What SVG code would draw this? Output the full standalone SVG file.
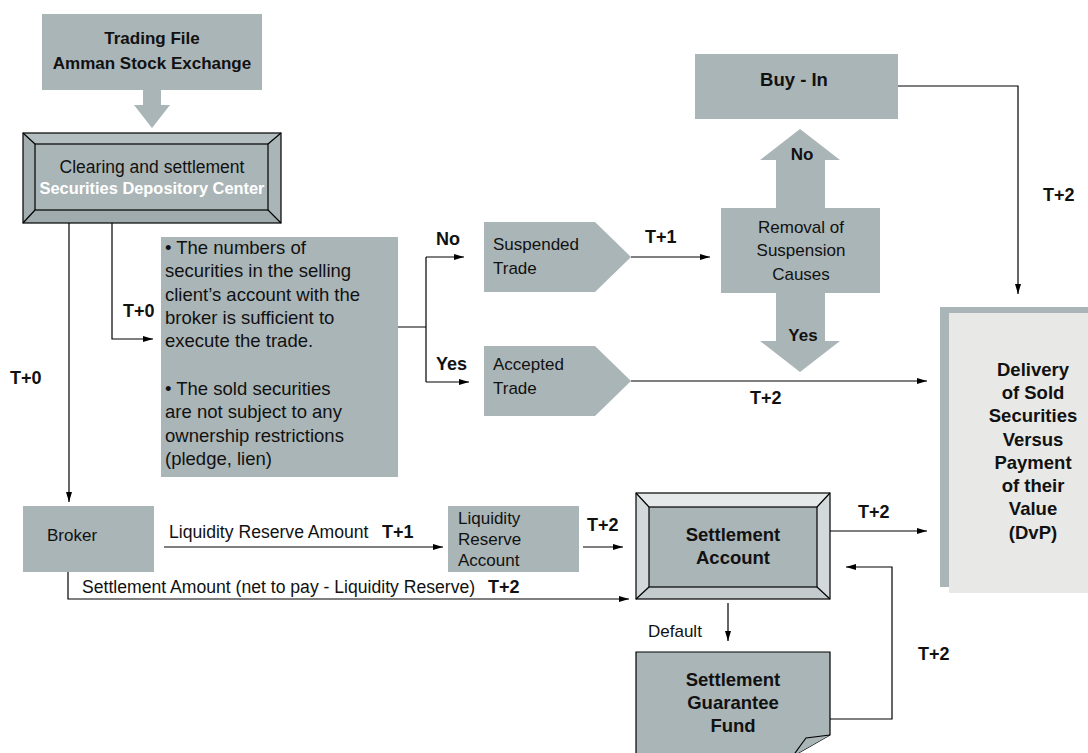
<svg xmlns="http://www.w3.org/2000/svg" width="1088" height="753" viewBox="0 0 1088 753">
<defs>
<marker id="ah" markerWidth="10" markerHeight="6" refX="10" refY="3" orient="auto" markerUnits="userSpaceOnUse">
<path d="M0,0 L10,3 L0,6 Z" fill="#000"/>
</marker>
<style>
.box{fill:#aab5b7}
.t{font-family:"Liberation Sans",Arial,sans-serif;font-size:17px;fill:#111}
.b{font-family:"Liberation Sans",Arial,sans-serif;font-size:17px;font-weight:bold;fill:#111}
.lb{font-family:"Liberation Sans",Arial,sans-serif;font-size:18px;font-weight:bold;fill:#111}
.c{text-anchor:middle}
.ln{fill:none;stroke:#000;stroke-width:1.2}
.ar{fill:none;stroke:#000;stroke-width:1.2;marker-end:url(#ah)}
.edge{fill:none;stroke:#000;stroke-width:1.2}
</style>
</defs>
<rect width="1088" height="753" fill="#fff"/>

<g id="trading-file">
<rect class="box" x="42" y="14" width="220" height="76"/>
<text class="b c" x="152" y="44">Trading File</text>
<text class="b c" x="152" y="69">Amman Stock Exchange</text>
</g>

<g id="block-arrow">
<polygon class="box" points="143,90 161,90 161,105 170,105 152,128 134,105 143,105"/>
</g>

<g id="clearing">
<rect x="23" y="133" width="258" height="90" fill="#aab5b7"/>
<polygon points="23,133 281,133 268,144 35,144" fill="#b3bec0"/>
<polygon points="23,223 281,223 268,210 35,210" fill="#9fabad"/>
<polygon points="23,133 35,144 35,210 23,223" fill="#a2aeb0"/>
<rect x="23" y="133" width="258" height="90" class="edge"/>
<rect x="35" y="144" width="233" height="66" class="edge"/>
<path class="edge" d="M23,133 L35,144 M281,133 L268,144 M23,223 L35,210 M281,223 L268,210"/>
<text class="t c" x="152" y="173" style="font-size:17.5px">Clearing and settlement</text>
<text class="b c" x="152" y="194" style="fill:#fff;font-size:16.4px">Securities Depository Center</text>
</g>

<g id="conditions">
<rect class="box" x="161" y="237" width="237" height="240"/>
<text class="t" x="165" y="254" style="font-size:18.5px">• The numbers of</text>
<text class="t" x="165" y="277" style="font-size:18.5px">securities in the selling</text>
<text class="t" x="165" y="301" style="font-size:18.5px">client’s account with the</text>
<text class="t" x="165" y="324" style="font-size:18.5px">broker is sufficient to</text>
<text class="t" x="165" y="347" style="font-size:18.5px">execute the trade.</text>
<text class="t" x="165" y="395" style="font-size:18.5px">• The sold securities</text>
<text class="t" x="165" y="418" style="font-size:18.5px">are not subject to any</text>
<text class="t" x="165" y="442" style="font-size:18.5px">ownership restrictions</text>
<text class="t" x="165" y="465" style="font-size:18.5px">(pledge, lien)</text>
</g>

<g id="suspended">
<polygon class="box" points="484,222 595,222 631,257 595,292 484,292"/>
<text class="t" x="493" y="250">Suspended</text>
<text class="t" x="493" y="274">Trade</text>
</g>

<g id="accepted">
<polygon class="box" points="484,346 595,346 631,381 595,416 484,416"/>
<text class="t" x="493" y="370">Accepted</text>
<text class="t" x="493" y="394">Trade</text>
</g>

<g id="removal">
<polygon class="box" points="800,129 840,160 825,160 825,208 880,208 880,293 825,293 825,341 840,341 800,372 760,341 776,341 776,293 721,293 721,208 776,208 776,160 760,160"/>
<text class="t c" x="801" y="233">Removal of</text>
<text class="t c" x="801" y="256">Suspension</text>
<text class="t c" x="801" y="280">Causes</text>
<text class="b c" x="802" y="160">No</text>
<text class="b c" x="803" y="341">Yes</text>
</g>

<g id="buy-in">
<rect class="box" x="695" y="54" width="203" height="65"/>
<text class="b c" x="794" y="86" style="font-size:18.5px">Buy - In</text>
</g>

<g id="dvp">
<rect class="box" x="940" y="307" width="148" height="280"/>
<rect x="949" y="313" width="139" height="280" fill="#e8e8e6"/>
<text class="b c" x="1033" y="376" style="font-size:18.5px">Delivery</text>
<text class="b c" x="1033" y="399" style="font-size:18.5px">of Sold</text>
<text class="b c" x="1033" y="422" style="font-size:18.5px">Securities</text>
<text class="b c" x="1033" y="446" style="font-size:18.5px">Versus</text>
<text class="b c" x="1033" y="469" style="font-size:18.5px">Payment</text>
<text class="b c" x="1033" y="492" style="font-size:18.5px">of their</text>
<text class="b c" x="1033" y="515" style="font-size:18.5px">Value</text>
<text class="b c" x="1033" y="539" style="font-size:18.5px">(DvP)</text>
</g>

<g id="broker">
<rect class="box" x="23" y="506" width="131" height="66"/>
<text class="t" x="47" y="541">Broker</text>
</g>

<g id="liquidity-reserve-account">
<rect class="box" x="448" y="506" width="131" height="66"/>
<text class="t" x="458" y="524">Liquidity</text>
<text class="t" x="458" y="545">Reserve</text>
<text class="t" x="458" y="566">Account</text>
</g>

<g id="settlement-account">
<rect x="636" y="493" width="194" height="106" fill="#d3d9da"/>
<polygon points="636,493 830,493 817,507 649,507" fill="#e6e9e9"/>
<polygon points="636,599 830,599 817,587 649,587" fill="#c3cbcc"/>
<rect x="649" y="507" width="168" height="80" fill="#aab5b7"/>
<rect x="636" y="493" width="194" height="106" class="edge"/>
<rect x="649" y="507" width="168" height="80" class="edge"/>
<path class="edge" d="M636,493 L649,507 M830,493 L817,507 M636,599 L649,587 M830,599 L817,587"/>
<text class="b c" x="733" y="541" style="font-size:18.5px">Settlement</text>
<text class="b c" x="733" y="564" style="font-size:18.5px">Account</text>
</g>

<g id="guarantee-fund">
<path d="M636,652 H830 V735 L793,756 H636 Z" fill="#aab5b7" stroke="#000" stroke-width="1.2"/>
<path d="M830,735 L806,738 Q800,746 793,756" fill="#aab5b7" stroke="#000" stroke-width="1.2"/>
<text class="b c" x="733" y="686" style="font-size:18.5px">Settlement</text>
<text class="b c" x="733" y="709" style="font-size:18.5px">Guarantee</text>
<text class="b c" x="733" y="732" style="font-size:18.5px">Fund</text>
</g>

<g id="connectors">
<path class="ar" d="M112,223 V339 H153"/>
<path class="ar" d="M69,223 V502"/>
<path class="ln" d="M398,327 H426 M426,257 V382"/>
<path class="ar" d="M426,257 H464"/>
<path class="ar" d="M426,382 H469"/>
<path class="ar" d="M631,257 H710"/>
<path class="ar" d="M898,86 H1018 V294"/>
<path class="ar" d="M631,381 H927"/>
<path class="ar" d="M164,547 H443"/>
<path class="ar" d="M583,547 H623"/>
<path class="ar" d="M68,572 V599 H629"/>
<path class="ar" d="M830,531 H927"/>
<path class="ar" d="M728,603 V641"/>
<path class="ar" d="M830,719 H892 V567 H846"/>
</g>

<g id="labels">
<text class="lb" x="123" y="317">T+0</text>
<text class="lb" x="10" y="384">T+0</text>
<text class="lb" x="436" y="245">No</text>
<text class="lb" x="436" y="370">Yes</text>
<text class="lb" x="645" y="243">T+1</text>
<text class="lb" x="750" y="404">T+2</text>
<text class="lb" x="1043" y="201">T+2</text>
<text class="lb" x="858" y="518">T+2</text>
<text class="lb" x="587" y="531">T+2</text>
<text class="t" x="169" y="538" style="font-size:17.6px">Liquidity Reserve Amount</text>
<text class="lb" x="382" y="538">T+1</text>
<text class="t" x="82" y="593" style="font-size:17.6px">Settlement Amount (net to pay - Liquidity Reserve)</text>
<text class="lb" x="488" y="593">T+2</text>
<text class="lb" x="918" y="660">T+2</text>
<text class="t" x="648" y="637">Default</text>
</g>
</svg>
